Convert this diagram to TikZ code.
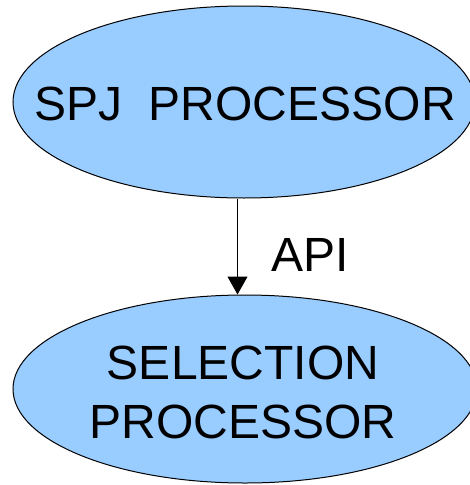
\documentclass[tikz,border=0pt]{standalone}
\usepackage{fontspec}
\setmainfont{Liberation Sans}
\usetikzlibrary{shapes.geometric,arrows.meta}
\begin{document}
\begin{tikzpicture}[x=1pt,y=-1pt,
  proc/.style={ellipse,draw=black,line width=1pt,fill=procblue,inner sep=0pt},
  txt/.style={inner sep=0pt,align=center,font=\fontsize{48}{59}\selectfont}]
\definecolor{procblue}{HTML}{99CCFF}
\useasboundingbox (0,0) rectangle (470,485);
\node[proc,minimum width=462pt,minimum height=192pt] (spj) at (244,102) {};
\node[proc,minimum width=464pt,minimum height=188pt] (sel) at (245,389) {};
\node[txt] (spjt) at (245,104) {SPJ\ \ PROCESSOR};
\node[txt] (selt) at (243,392) {SELECTION\\PROCESSOR};
\coordinate (ax) at (237.5,250);
\draw[line width=1pt,-{Triangle[length=18pt,width=20pt]}] (spj.south -| ax) -- (sel.north -| ax);
\node[txt] (api) at (310,255) {API};
\end{tikzpicture}
\end{document}
